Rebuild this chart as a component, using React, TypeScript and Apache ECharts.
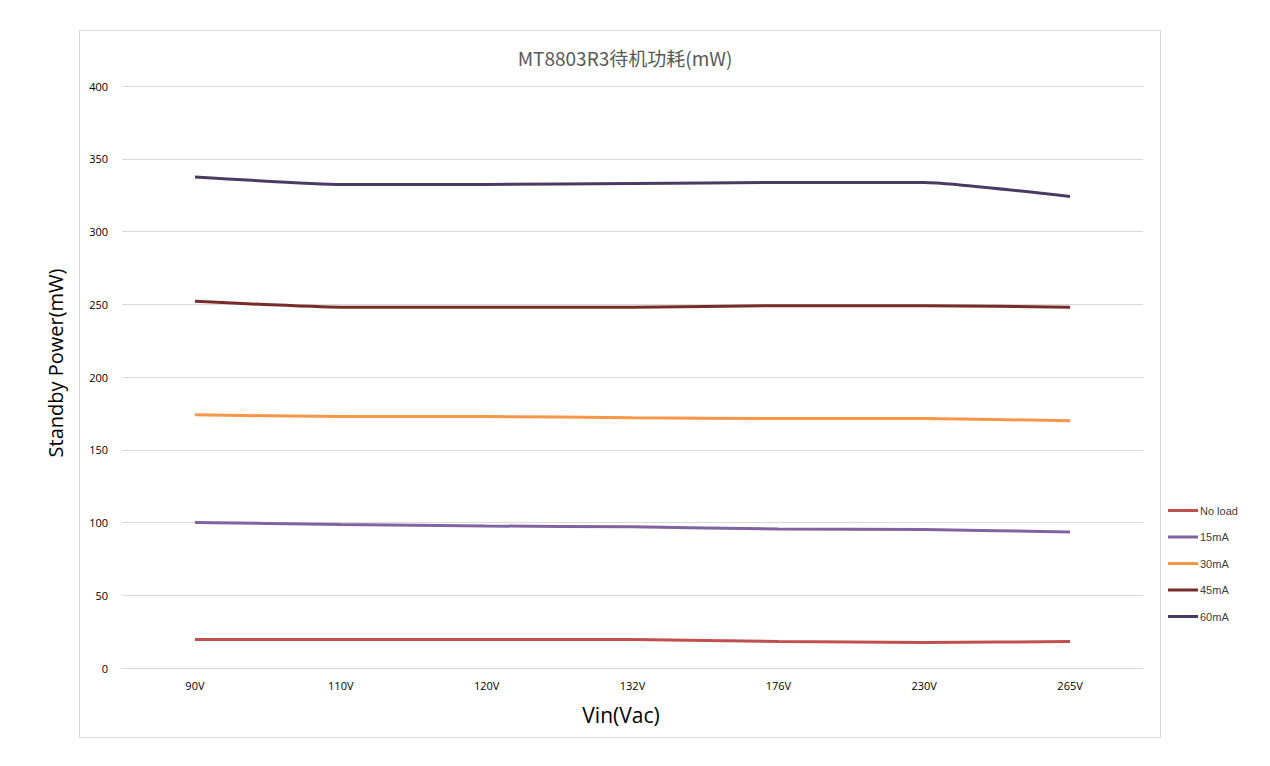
import React, { useEffect, useRef } from "react";
import * as echarts from "echarts";

const categories = ["90V", "110V", "120V", "132V", "176V", "230V", "265V"];
const noLoad = [19.6, 19.6, 19.6, 19.6, 18.2, 17.5, 18.2];
const load15 = [100, 98.6, 97.6, 97, 95.5, 95.2, 93.5];
const load30 = [174, 172.8, 172.8, 172, 171.5, 171.4, 170];
const load45 = [252, 248, 248, 248, 249, 249, 248];
const load60 = [337.5, 332.3, 332.3, 333, 333.7, 333.7, 324];
const seriesNames = ["No load", "15mA", "30mA", "45mA", "60mA"];
const seriesColors = ["#C0504D", "#8064A2", "#F79646", "#772C2A", "#4B3B62"];
const yTicks = { min: 0, max: 400, interval: 50 };

export default function App() {
  const ref = useRef<HTMLDivElement>(null);
  useEffect(() => {
    if (!ref.current) return;
    const chart = echarts.init(ref.current, undefined, { renderer: "svg" });
    const data = [noLoad, load15, load30, load45, load60];
    const font = "'Liberation Sans Narrow', 'Open Sans', 'Noto Sans', sans-serif";
    chart.setOption({
      animation: false,
      backgroundColor: "#ffffff",
      title: {
        text: "MT8803R3待机功耗(mW)",
        left: 620,
        textAlign: "center",
        top: 43,
        textStyle: {
          fontSize: 19,
          fontWeight: "normal",
          color: "#595959",
          fontFamily: "'Noto Sans CJK SC', 'Open Sans', sans-serif",
        },
      },
      graphic: [
        {
          type: "rect",
          shape: { x: 79.5, y: 30.5, width: 1081, height: 707 },
          style: { fill: "none", stroke: "#d9d9d9", lineWidth: 1 },
          silent: true,
          z: -1,
        },
        {
          type: "text",
          x: 55,
          y: 363,
          rotation: Math.PI / 2,
          style: {
            text: "Standby Power(mW)",
            fontSize: 20,
            fill: "#000000",
            align: "center",
            verticalAlign: "middle",
            fontFamily: "'Open Sans', 'Noto Sans', sans-serif",
          },
        },
        {
          type: "text",
          x: 621,
          y: 715,
          style: {
            text: "Vin(Vac)",
            fontSize: 21,
            fill: "#000000",
            align: "center",
            verticalAlign: "middle",
            fontFamily: font,
          },
        },
      ],
      legend: {
        orient: "vertical",
        left: 1163,
        top: 500,
        itemWidth: 30,
        itemHeight: 14,
        itemGap: 15.5,
        icon: "path://M0,0h30v3h-30z",
        data: seriesNames.map((n, i) => ({
          name: n,
          itemStyle: { color: seriesColors[i] },
        })),
        textStyle: { fontSize: 11, color: "#404040", padding: [0, 0, 0, -3] },
      },
      grid: { left: 122, right: 127, top: 86, bottom: 98, containLabel: false },
      xAxis: {
        type: "category",
        data: categories,
        boundaryGap: true,
        axisLine: { show: true, lineStyle: { color: "#d9d9d9", width: 1 } },
        axisTick: { show: false },
        axisLabel: { color: "#000000", fontSize: 11, margin: 12, fontFamily: font },
      },
      yAxis: {
        type: "value",
        min: yTicks.min,
        max: yTicks.max,
        interval: yTicks.interval,
        axisLine: { show: false },
        axisTick: { show: false },
        axisLabel: { color: "#000000", fontSize: 11, margin: 14, fontFamily: font },
        splitLine: { lineStyle: { color: "#d9d9d9", width: 1 } },
      },
      series: seriesNames.map((n, i) => ({
        name: n,
        type: "line",
        data: data[i],
        smooth: 0.15,
        symbol: "none",
        lineStyle: { color: seriesColors[i], width: 3 },
        itemStyle: { color: seriesColors[i] },
      })),
    });
    return () => chart.dispose();
  }, []);
  return (
    <div
      ref={ref}
      style={{ position: "fixed", left: 0, top: 0, width: 1270, height: 766 }}
    />
  );
}
